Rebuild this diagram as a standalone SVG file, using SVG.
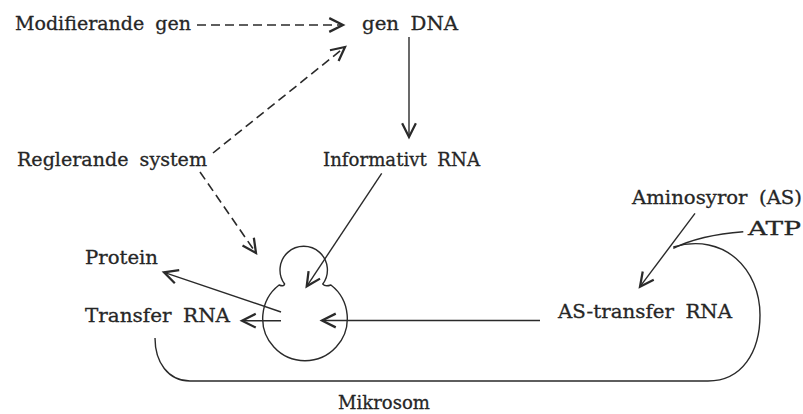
<svg xmlns="http://www.w3.org/2000/svg" width="803" height="414" viewBox="0 0 803 414">
<defs>
<style>
text{font-family:"DejaVu Serif","Liberation Serif",serif;font-size:19px;fill:#262626;stroke:#262626;stroke-width:0.3;word-spacing:5px}
.ln{fill:none;stroke:#2a2a2a;stroke-width:1.4}
.dash{stroke-dasharray:9 5;stroke-width:1.6}
</style>
<marker id="ah" markerUnits="userSpaceOnUse" markerWidth="20" markerHeight="20" refX="0" refY="0" viewBox="-14 -8 16 16" orient="auto" overflow="visible">
<path d="M-11,-5.5 L0,0 L-11,5.5" fill="none" stroke="#2a2a2a" stroke-width="1.8" stroke-linejoin="miter"/>
</marker>
</defs>
<rect width="803" height="414" fill="#fff"/>
<g id="n-modifierande"><text x="15" y="30" textLength="176" lengthAdjust="spacingAndGlyphs">Modifierande gen</text></g>
<g id="n-gendna"><text x="362" y="30" textLength="96" lengthAdjust="spacingAndGlyphs">gen DNA</text></g>
<g id="n-reglerande"><text x="17" y="165.5" textLength="190" lengthAdjust="spacingAndGlyphs">Reglerande system</text></g>
<g id="n-informativt"><text x="323" y="165.5" textLength="157" lengthAdjust="spacingAndGlyphs">Informativt RNA</text></g>
<g id="n-protein"><text x="85" y="264" textLength="73" lengthAdjust="spacingAndGlyphs">Protein</text></g>
<g id="n-transfer"><text x="85" y="321.7" textLength="145" lengthAdjust="spacingAndGlyphs">Transfer RNA</text></g>
<g id="n-astransfer"><text x="558" y="318.3" textLength="174" lengthAdjust="spacingAndGlyphs">AS-transfer RNA</text></g>
<g id="n-aminosyror"><text x="632" y="204" textLength="170" lengthAdjust="spacingAndGlyphs">Aminosyror (AS)</text></g>
<g id="n-atp"><text x="748" y="235" textLength="53" lengthAdjust="spacingAndGlyphs">ATP</text></g>
<g id="n-mikrosom"><text x="338" y="409" textLength="92" lengthAdjust="spacingAndGlyphs">Mikrosom</text></g>
<g id="n-ribosom">
<path class="ln" stroke-width="1.8" d="M284.6,284 A23.7,23.7 0 1 1 322.8,284 Q325,287 330.9,285 A42.3,42.3 0 1 1 279.1,285 Q284,287 284.6,284 Z"/>
</g>
<g id="connectors">
<path class="ln dash" d="M197,25 L343,25" marker-end="url(#ah)"/>
<path class="ln dash" d="M213,153 L345,47" marker-end="url(#ah)"/>
<path class="ln dash" d="M200,172 L256,253" marker-end="url(#ah)"/>
<path class="ln" d="M409,37 L409,137" marker-end="url(#ah)"/>
<path class="ln" d="M381.7,173.3 L306.7,286.3" marker-end="url(#ah)"/>
<path class="ln" d="M281,312 L164,272.3" marker-end="url(#ah)"/>
<path class="ln" d="M281,320.7 L242,320.7" marker-end="url(#ah)"/>
<path class="ln" d="M540,320.5 L322,320.5" marker-end="url(#ah)"/>
<path class="ln" d="M695,213.3 L640,286.7" marker-end="url(#ah)"/>
<path class="ln" d="M743.3,231.7 Q700,235 673.3,248.3"/>
<path class="ln" stroke-width="1.6" d="M673.3,247 C725,232 760,270 760,315 C760,352 742,381 708,381 L190,381 C168,381 155,362 155,338"/>
</g>
</svg>
